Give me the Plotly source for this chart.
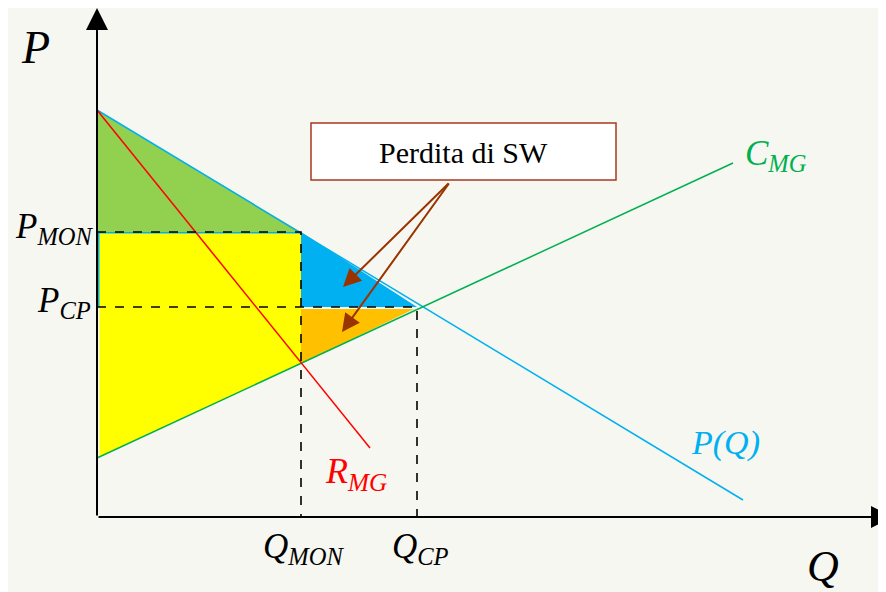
import plotly.graph_objects as go

# curves (Q, P)
q_demand = [0, 64.6]
p_demand = [40.7, 1.7]
q_mc = [0, 63.6]
p_mc = [5.9, 35.4]
q_mr = [0, 27.3]
p_mr = [40.7, 6.9]

# equilibrium points
q_mon = 20.4
q_cp = 32.0
p_mon = 28.5
p_cp = 21.0
mc_at_qmon = 15.3
mc_at_0 = 5.9
p_max = 40.7

serif = "Liberation Serif, Times New Roman, serif"
blue = "#00B0F0"
green_line = "#00B050"
brown = "#993300"

fig = go.Figure()

# areas
fig.add_trace(go.Scatter(  # lost surplus above P_CP
    x=[0, q_mon, q_cp, 0], y=[p_mon, p_mon, p_cp, p_cp],
    fill="toself", fillcolor=blue, line=dict(width=0), mode="lines"))
fig.add_trace(go.Scatter(  # lost surplus below P_CP
    x=[q_mon, q_cp - 0.3, q_mon], y=[p_cp - 0.2, p_cp - 0.2, mc_at_qmon],
    fill="toself", fillcolor="#FFC000", line=dict(width=0), mode="lines"))
fig.add_trace(go.Scatter(  # producer surplus
    x=[0.25, q_mon, q_mon, 0.25], y=[p_mon - 0.15, p_mon - 0.15, mc_at_qmon, mc_at_0 + 0.1],
    fill="toself", fillcolor="#FFFF00", line=dict(width=0), mode="lines"))
fig.add_trace(go.Scatter(  # consumer surplus
    x=[0, q_mon, 0], y=[p_max, p_mon, p_mon],
    fill="toself", fillcolor="#92D050", line=dict(width=0), mode="lines"))

# curves
fig.add_trace(go.Scatter(x=q_demand, y=p_demand, mode="lines",
                         line=dict(color=blue, width=1.5)))
fig.add_trace(go.Scatter(x=q_mc, y=p_mc, mode="lines",
                         line=dict(color=green_line, width=1.5)))
fig.add_trace(go.Scatter(x=q_mr, y=p_mr, mode="lines",
                         line=dict(color="#FF0000", width=1.5)))

# dashed guides
dash = dict(color="black", width=1.6, dash="dash")
fig.add_trace(go.Scatter(x=[0, q_mon, q_mon], y=[p_mon, p_mon, 0], mode="lines", line=dash))
fig.add_trace(go.Scatter(x=[0, q_cp, q_cp], y=[p_cp, p_cp, 0], mode="lines", line=dash))

ann = []
# axes with arrowheads
ann.append(dict(x=0, y=50.9, ax=0, ay=0, xref="x", yref="y", axref="x", ayref="y",
                showarrow=True, arrowhead=2, arrowsize=2.2, arrowwidth=2, arrowcolor="black", text=""))
ann.append(dict(x=79.6, y=0, ax=0, ay=0, xref="x", yref="y", axref="x", ayref="y",
                showarrow=True, arrowhead=2, arrowsize=2.2, arrowwidth=2, arrowcolor="black", text=""))

# arrows from the label box
for tx, ty in [(24.6, 23.0), (24.5, 18.5)]:
    ann.append(dict(x=tx, y=ty, ax=35.3, ay=33.5, xref="x", yref="y", axref="x", ayref="y",
                    showarrow=True, arrowhead=2, arrowsize=1.8, arrowwidth=2,
                    arrowcolor=brown, text=""))


def label(x, y, text, size, color="black", xanchor="center"):
    ann.append(dict(x=x, y=y, xref="x", yref="y", text=text, showarrow=False,
                    xanchor=xanchor, yanchor="middle",
                    font=dict(family=serif, size=size, color=color)))


label(-6.2, 47.0, "<i>P</i>", 46)
label(-0.2, 28.9, "<i>P</i><sub><i>MON</i></sub>", 35, xanchor="right")
label(-0.4, 21.5, "<i>P</i><sub><i>CP</i></sub>", 35, xanchor="right")
label(20.6, -3.1, "<i>Q</i><sub><i>MON</i></sub>", 35)
label(32.3, -3.1, "<i>Q</i><sub><i>CP</i></sub>", 35)
label(72.6, -4.9, "<i>Q</i>", 44)
label(67.9, 36.2, "<i>C</i><sub><i>MG</i></sub>", 35, color=green_line)
label(62.8, 7.4, "<i>P(Q)</i>", 34, color=blue)
label(25.9, 4.4, "<i>R</i><sub><i>MG</i></sub>", 36, color="#FF0000")
label(36.6, 36.5, "Perdita di SW", 30)

fig.update_layout(
    width=886, height=592, autosize=False,
    margin=dict(l=0, r=0, t=0, b=0),
    paper_bgcolor="#F6F7F1", plot_bgcolor="#F6F7F1",
    showlegend=False,
    # ranges offset by 8 px to allow for the page margin
    xaxis=dict(range=[-8.9, 79.7], visible=False, fixedrange=True),
    yaxis=dict(range=[-8.3, 50.9], visible=False, fixedrange=True),
    annotations=ann,
    shapes=[dict(type="rect", x0=21.4, x1=51.9, y0=33.7, y1=39.4, xref="x", yref="y",
                 fillcolor="white", line=dict(color="#A9391F", width=1.5), layer="below")],
)

fig.write_html("out.html")
